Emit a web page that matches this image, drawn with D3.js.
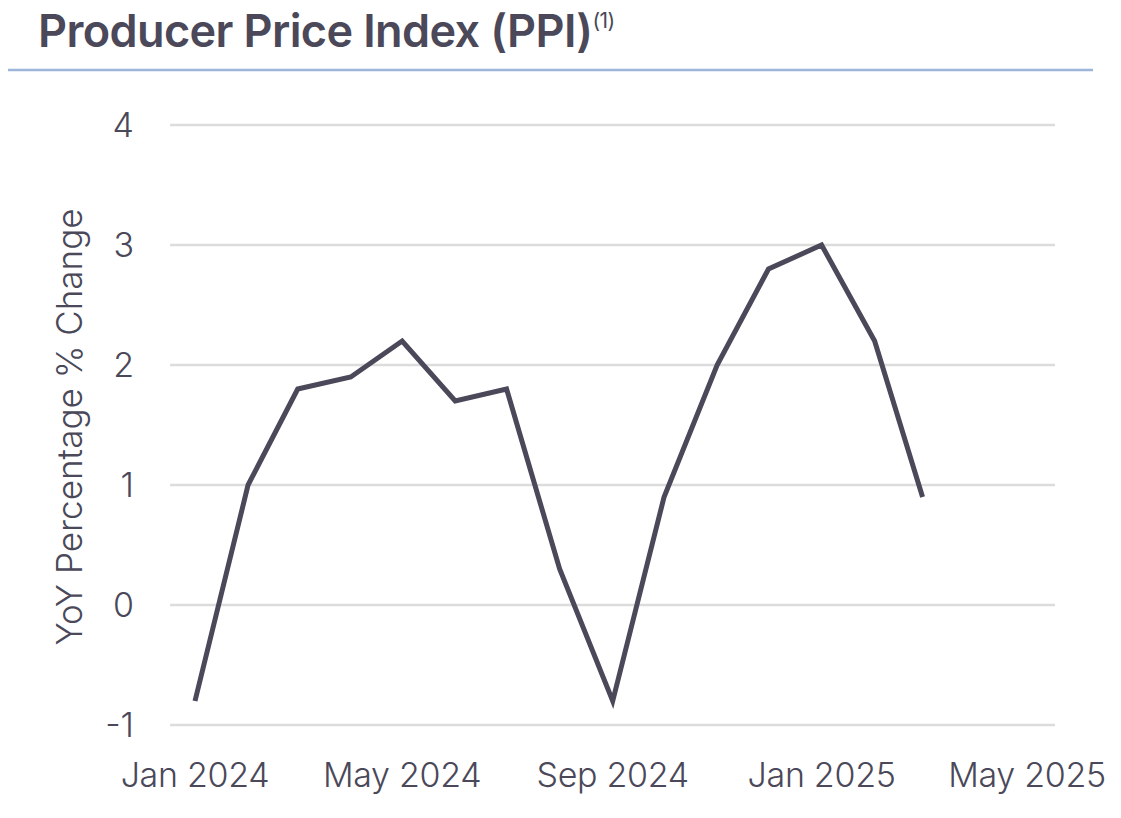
<!DOCTYPE html>
<html><head><meta charset="utf-8">
<script src="https://cdn.jsdelivr.net/npm/d3@7"></script>
<style>body{margin:0;background:#fff}</style></head>
<body><svg id="c" width="1121" height="818"></svg>
<script>
const months = ["2024-01","2024-02","2024-03","2024-04","2024-05","2024-06","2024-07","2024-08","2024-09","2024-10","2024-11","2024-12","2025-01","2025-02","2025-03"];
const ppi = [-0.8,1.0,1.8,1.9,2.2,1.7,1.8,0.3,-0.8,0.9,2.0,2.8,3.0,2.2,0.9];
const yTicks = [-1,0,1,2,3,4];
const xTicks = ["2024-01","2024-05","2024-09","2025-01","2025-05"];
const parse = d3.timeParse("%Y-%m");
const fmt = d3.timeFormat("%b %Y");
const ink = "#4a4859";
const svg = d3.select("#c");
const font = "Inter, 'Open Sans', sans-serif";

svg.append("text").attr("x",38).attr("y",47).attr("font-family",font).attr("font-weight",600)
  .attr("font-size",45).attr("fill",ink).attr("letter-spacing",-0.6)
  .text("Producer Price Index (PPI)")
  .append("tspan").attr("font-size",21).attr("dy",-19).attr("font-weight",400).text("(1)");
svg.append("line").attr("x1",8).attr("x2",1093).attr("y1",70).attr("y2",70).attr("stroke","#9db5d9").attr("stroke-width",2.5);

const x = d3.scaleTime().domain([parse("2024-01"),parse("2025-05")]).range([195,1027]);
const y = d3.scaleLinear().domain([-1,4]).range([725,125]);

svg.append("g").selectAll("line").data(yTicks).join("line")
  .attr("x1",170).attr("x2",1055).attr("y1",d=>y(d)).attr("y2",d=>y(d))
  .attr("stroke","#dcdcdc").attr("stroke-width",2.5);
svg.append("g").selectAll("text").data(yTicks).join("text")
  .attr("x",134).attr("y",d=>y(d)+12).attr("text-anchor","end")
  .attr("font-family",font).attr("font-weight",300).attr("font-size",34).attr("fill",ink).text(d=>d);
svg.append("g").selectAll("text").data(xTicks).join("text")
  .attr("x",d=>x(parse(d))).attr("y",787).attr("text-anchor","middle")
  .attr("font-family",font).attr("font-weight",300).attr("font-size",34).attr("fill",ink).attr("letter-spacing",-0.3)
  .text(d=>fmt(parse(d)));
svg.append("text").attr("transform","translate(82,427) rotate(-90)").attr("text-anchor","middle")
  .attr("font-family",font).attr("font-weight",300).attr("font-size",35).attr("fill",ink)
  .text("YoY Percentage % Change");

svg.append("path").datum(months.map((m,i)=>[parse(m),ppi[i]]))
  .attr("fill","none").attr("stroke",ink).attr("stroke-width",5).attr("stroke-linejoin","miter")
  .attr("d",d3.line().x(d=>x(d[0])).y(d=>y(d[1])));
</script></body></html>
